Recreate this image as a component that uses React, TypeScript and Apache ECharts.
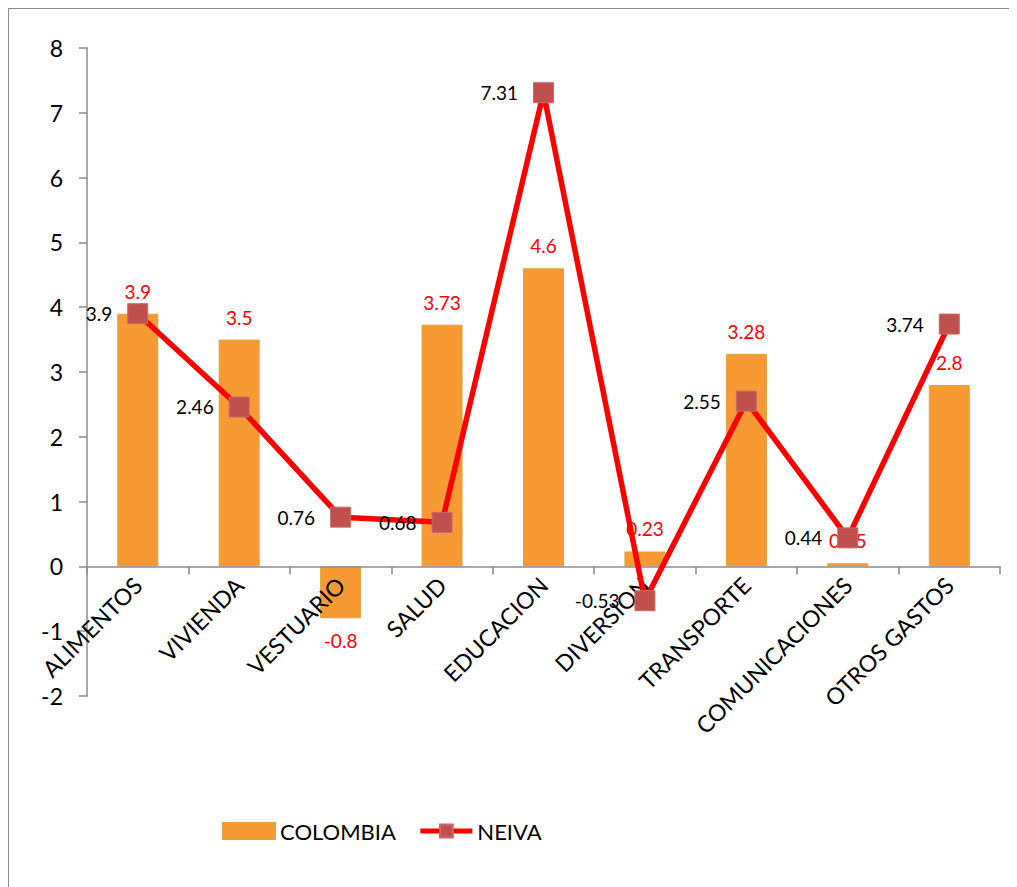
import React, { useEffect, useRef } from "react";
import * as echarts from "echarts";

const categories = ["ALIMENTOS", "VIVIENDA", "VESTUARIO", "SALUD", "EDUCACION", "DIVERSION", "TRANSPORTE", "COMUNICACIONES", "OTROS GASTOS"];
const colombia = [3.9, 3.5, -0.8, 3.73, 4.6, 0.23, 3.28, 0.05, 2.8];
const neiva = [3.9, 2.46, 0.76, 0.68, 7.31, -0.53, 2.55, 0.44, 3.74];
const yTicks = { min: -2, max: 8, interval: 1 };

const FONT = "Lato, 'Open Sans', sans-serif";

export default function App() {
  const ref = useRef<HTMLDivElement>(null);
  useEffect(() => {
    if (!ref.current) return;
    const chart = echarts.init(ref.current, undefined, { renderer: "svg" });
    chart.setOption({
      animation: false,
      textStyle: { fontFamily: FONT },
      grid: { left: 78, right: 19, top: 39, bottom: 203, containLabel: false },
      legend: {
        left: 208,
        top: 806,
        itemWidth: 52,
        itemHeight: 16,
        itemGap: 22,
        textStyle: { fontSize: 22, color: "#000", fontFamily: FONT },
        data: [
          { name: "COLOMBIA", icon: "rect" },
          { name: "NEIVA", lineStyle: { width: 5 } },
        ],
      },
      xAxis: {
        type: "category",
        data: categories,
        boundaryGap: true,
        z: 3,
        axisLine: { show: true, onZero: true, lineStyle: { color: "#8c8c8c", width: 1.5 } },
        axisTick: { show: true, inside: false, length: 8, alignWithLabel: false, lineStyle: { color: "#8c8c8c", width: 1.5 } },
        axisLabel: { rotate: 45, fontSize: 23, color: "#000", margin: -115, interval: 0, fontFamily: FONT },
        splitLine: { show: false },
      },
      yAxis: {
        type: "value",
        min: yTicks.min,
        max: yTicks.max,
        interval: yTicks.interval,
        axisLine: { show: true, lineStyle: { color: "#8c8c8c", width: 1.5 } },
        axisTick: { show: true, inside: false, length: 8, lineStyle: { color: "#8c8c8c", width: 1.5 } },
        axisLabel: { fontSize: 23, color: "#000", margin: 24, fontFamily: FONT },
        splitLine: { show: false },
      },
      series: [
        {
          name: "COLOMBIA",
          type: "bar",
          barWidth: 41,
          data: colombia.map((v) => ({ value: v, label: { position: v < 0 ? "bottom" : "top" } })),
          itemStyle: { color: "#F79A33", borderColor: "#E0A53A", borderWidth: 1 },
          label: { show: true, color: "#FF0000", fontSize: 19, distance: 13, fontFamily: FONT },
          z: 2,
        },
        {
          name: "NEIVA",
          type: "line",
          data: neiva,
          symbol: "rect",
          symbolSize: 20,
          lineStyle: { color: "#FF0000", width: 5.5 },
          itemStyle: { color: "#C0504D", borderColor: "#C86B68", borderWidth: 1 },
          label: { show: true, position: "left", color: "#000", fontSize: 19, distance: 15, fontFamily: FONT },
          z: 4,
        },
      ],
    });
    return () => chart.dispose();
  }, []);
  return (
    <div
      ref={ref}
      style={{ width: 1010, height: 890, borderLeft: "1.5px solid #8c8c8c", borderTop: "1.5px solid #8c8c8c", background: "#fff" }}
    />
  );
}
